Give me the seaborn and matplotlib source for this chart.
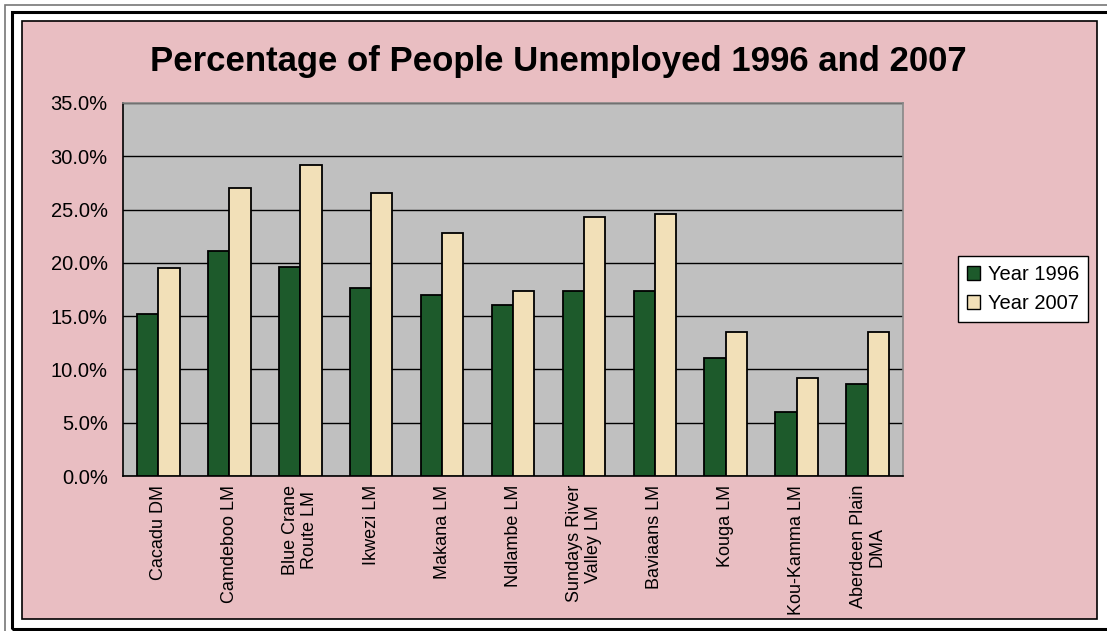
import numpy as np
import pandas as pd
import seaborn as sns
import matplotlib.pyplot as plt
from matplotlib.patches import Rectangle, Patch
from matplotlib.ticker import FuncFormatter

areas = ["Cacadu DM", "Camdeboo LM", "Blue Crane\nRoute LM", "Ikwezi LM", "Makana LM",
         "Ndlambe LM", "Sundays River\nValley LM", "Baviaans LM", "Kouga LM",
         "Kou-Kamma LM", "Aberdeen Plain\nDMA"]
year_1996 = [15.2, 21.1, 19.6, 17.6, 17.0, 16.0, 17.4, 17.4, 11.1, 6.0, 8.6]
year_2007 = [19.5, 27.0, 29.2, 26.6, 22.8, 17.4, 24.3, 24.6, 13.5, 9.2, 13.5]

df = pd.DataFrame({
    "area": areas * 2,
    "pct": year_1996 + year_2007,
    "year": ["Year 1996"] * len(areas) + ["Year 2007"] * len(areas),
})

green = "#1d5a2b"
cream = "#f2e0b8"
pink = "#e9bec2"

sns.set_style("white")
plt.rcParams["font.family"] = ["Liberation Sans", "DejaVu Sans"]
plt.rcParams["text.color"] = "black"
plt.rcParams["xtick.color"] = "black"
plt.rcParams["ytick.color"] = "black"

fig = plt.figure(figsize=(11.07, 6.31), dpi=100, facecolor="white")
W, H = 1107, 631

# frame + pink background
fig.patches.append(Rectangle((22 / W, 1 - 619 / H), (1097 - 22) / W, (619 - 21) / H,
                             transform=fig.transFigure, facecolor=pink,
                             edgecolor="black", linewidth=1.2, zorder=-5))
fig.patches.append(Rectangle((12 / W, 1 - 629 / H), 1.2, (629 - 12) / H,
                             transform=fig.transFigure, facecolor="none",
                             edgecolor="black", linewidth=2.2, zorder=-5))
fig.patches.append(Rectangle((5 / W, -0.5), 1.2, 1 - 5 / H + 0.5,
                             transform=fig.transFigure, facecolor="none",
                             edgecolor="#777777", linewidth=1.2, zorder=-5))

ax = fig.add_axes([123 / W, 1 - 476 / H, (903 - 123) / W, (476 - 103) / H])
ax.set_zorder(2)
ax.set_facecolor("#c0c0c0")

sns.barplot(data=df, x="area", y="pct", hue="year", palette=[green, cream],
            saturation=1, width=0.6, edgecolor="black", linewidth=1.3, ax=ax,
            legend=False, zorder=3)

ax.set_ylim(0, 35)
ax.set_yticks(np.arange(0, 36, 5))
ax.yaxis.set_major_formatter(FuncFormatter(lambda v, p: f"{v:.1f}%"))
ax.grid(axis="y", color="black", linewidth=1.0, zorder=1)
ax.set_axisbelow(True)
ax.set_xlim(-0.5, len(areas) - 0.5)
ax.set_xlabel("")
ax.set_ylabel("")

ax.set_xticks(np.arange(len(areas)))
ax.set_xticklabels(areas, rotation=90, fontsize=13, linespacing=1.12,
                   ha="center", va="top", multialignment="center")
ax.set_xticks(np.arange(-0.5, len(areas)), minor=True)
ax.tick_params(axis="x", which="major", length=0, pad=6.5)
ax.tick_params(axis="x", which="minor", length=5, width=1, color="black", direction="out")
ax.tick_params(axis="y", length=6, width=1, color="black", direction="out",
               labelsize=14.5, pad=5)

for s in ["left", "bottom"]:
    ax.spines[s].set_color("black")
    ax.spines[s].set_linewidth(1.2)
for s in ["top", "right"]:
    ax.spines[s].set_color("#888888")
    ax.spines[s].set_linewidth(1.2)

fig.text(558 / W, 1 - 62 / H, "Percentage of People Unemployed 1996 and 2007",
         ha="center", va="center", fontsize=25, fontweight="bold")

handles = [Patch(facecolor=green, edgecolor="black", label="Year 1996"),
           Patch(facecolor=cream, edgecolor="black", label="Year 2007")]
leg = fig.legend(handles=handles, loc="center", bbox_to_anchor=(1023 / W, 1 - 289 / H),
                 fontsize=14.5, frameon=True, fancybox=False, edgecolor="black",
                 handlelength=0.65, handleheight=0.65, handletextpad=0.4,
                 labelspacing=0.5, borderpad=0.45, framealpha=1)
leg.get_frame().set_linewidth(1.0)

fig.savefig("out.png", dpi=100, facecolor="white")
